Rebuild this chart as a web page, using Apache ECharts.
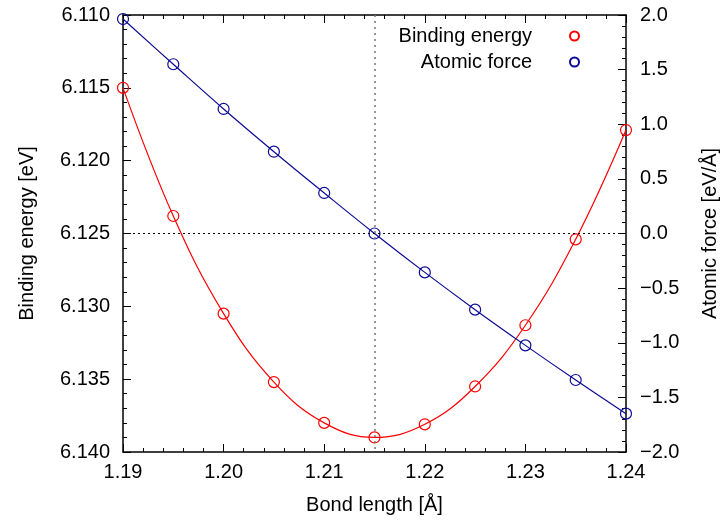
<!DOCTYPE html>
<html>
<head>
<meta charset="utf-8">
<script src="https://cdn.jsdelivr.net/npm/echarts@6/dist/echarts.min.js"></script>
<style>
  html, body { margin: 0; padding: 0; background: #fff; }
  #main { width: 728px; height: 522px; }
</style>
</head>
<body>
<div id="main"></div>
<script>
// bond length samples [Å]
var bondLength = [1.190, 1.195, 1.200, 1.205, 1.210, 1.215, 1.220, 1.225, 1.230, 1.235, 1.240];
// binding energy [eV] (left axis, inverted)
var bindingEnergy = [6.1150, 6.1238, 6.1305, 6.1352, 6.1380, 6.1390, 6.1381, 6.1355, 6.1313, 6.1254, 6.1179];
// atomic force [eV/Å] (right axis)
var atomicForce = [1.963, 1.549, 1.140, 0.749, 0.371, 0.000, -0.356, -0.697, -1.024, -1.341, -1.649];
var eqBond = 1.215;
var eqEnergy = 6.125;

var font = 'Liberation Sans, Arial, sans-serif';
var red = '#ff0000';
var blue = '#0a0a96';

function pairs(xs, ys) {
    return xs.map(function (x, i) { return [x, ys[i]]; });
}

var chart = echarts.init(document.getElementById('main'));

var tickStyle = { inside: true, length: 8, lineStyle: { color: '#000', width: 1 } };
var minorStyle = { show: true, splitNumber: 5, length: 4, lineStyle: { color: '#000', width: 1 } };
var labelStyle = { color: '#000', fontFamily: font, fontSize: 20 };
var frameLine = { show: true, onZero: false, lineStyle: { color: '#000', width: 1.5 } };

var option = {
    animation: false,
    grid: { left: 123, right: 100, top: 15, bottom: 70 },
    legend: {
        right: 143,
        top: 21,
        orient: 'vertical',
        align: 'right',
        itemGap: 6,
        itemWidth: 9,
        itemHeight: 9,
        data: [
            { name: 'Binding energy', icon: 'circle' },
            { name: 'Atomic force', icon: 'circle' }
        ],
        textStyle: { color: '#000', fontFamily: font, fontSize: 20, padding: [0, 33, 0, 0] }
    },
    xAxis: [{
        type: 'value',
        min: 1.19, max: 1.24, interval: 0.01,
        name: 'Bond length [Å]',
        nameLocation: 'middle',
        nameGap: 43,
        nameTextStyle: labelStyle,
        axisLine: frameLine,
        axisTick: tickStyle,
        minorTick: minorStyle,
        axisLabel: Object.assign({ margin: 10, formatter: function (v) { return v.toFixed(2); } }, labelStyle),
        splitLine: { show: false }
    }, {
        type: 'value',
        position: 'top',
        min: 1.19, max: 1.24, interval: 0.01,
        axisLine: frameLine,
        axisTick: tickStyle,
        minorTick: minorStyle,
        axisLabel: { show: false },
        splitLine: { show: false }
    }],
    yAxis: [{
        type: 'value',
        inverse: true,
        min: 6.110, max: 6.140, interval: 0.005,
        name: 'Binding energy [eV]',
        nameLocation: 'middle',
        nameGap: 86,
        nameTextStyle: labelStyle,
        axisLine: frameLine,
        axisTick: tickStyle,
        minorTick: minorStyle,
        axisLabel: Object.assign({ margin: 13, formatter: function (v) { return v.toFixed(3); } }, labelStyle),
        splitLine: { show: false }
    }, {
        type: 'value',
        position: 'right',
        min: -2, max: 2, interval: 0.5,
        name: 'Atomic force [eV/Å]',
        nameLocation: 'middle',
        nameGap: 74,
        nameRotate: 90,
        nameTextStyle: labelStyle,
        axisLine: frameLine,
        axisTick: tickStyle,
        minorTick: minorStyle,
        axisLabel: Object.assign({ margin: 14, formatter: function (v) { return v.toFixed(1).replace('-', '\u2212'); } }, labelStyle),
        splitLine: { show: false }
    }],
    series: [{
        name: 'Binding energy',
        type: 'line',
        xAxisIndex: 0,
        yAxisIndex: 0,
        smooth: 0.4,
        data: pairs(bondLength, bindingEnergy),
        symbol: 'circle',
        symbolSize: 11,
        lineStyle: { color: red, width: 1.2 },
        itemStyle: { color: 'rgba(0,0,0,0)', borderColor: red, borderWidth: 1.2 },
        z: 3,
        markLine: {
            silent: true,
            symbol: 'none',
            precision: 4,
            label: { show: false },
            data: [
                { xAxis: eqBond, lineStyle: { color: '#777', type: [2, 4], width: 1.5 } },
                { yAxis: eqEnergy, lineStyle: { color: '#000', type: [2, 3], width: 1 } }
            ]
        }
    }, {
        name: 'Atomic force',
        type: 'line',
        xAxisIndex: 0,
        yAxisIndex: 1,
        smooth: 0.4,
        data: pairs(bondLength, atomicForce),
        symbol: 'circle',
        symbolSize: 11,
        lineStyle: { color: blue, width: 1.2 },
        itemStyle: { color: 'rgba(0,0,0,0)', borderColor: blue, borderWidth: 1.2 },
        z: 4
    }]
};

chart.setOption(option);
</script>
</body>
</html>
